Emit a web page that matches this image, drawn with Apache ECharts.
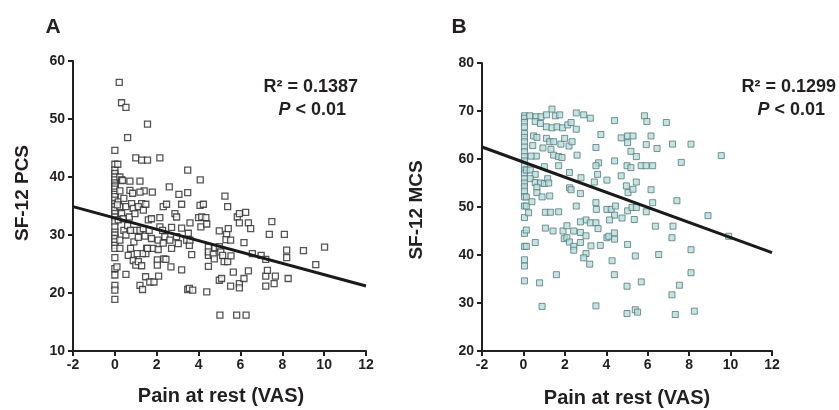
<!DOCTYPE html>
<html><head><meta charset="utf-8">
<script src="https://cdn.jsdelivr.net/npm/echarts@6/dist/echarts.min.js"></script>
<style>html,body{margin:0;padding:0;background:#fff}#c{width:839px;height:410px}</style>
</head><body><div id="c"></div>
<script>
// ---- Data ----
const xTicks = [-2, 0, 2, 4, 6, 8, 10, 12];
const yTicksA = [10, 20, 30, 40, 50, 60];
const yTicksB = [20, 30, 40, 50, 60, 70, 80];

const pointsA = [
 [0,44.6],[0,42.2],[0,41.2],[0,40.6],[0,40.0],[0,39.5],[0,39.0],[0,38.6],[0,38.3],[0,37.9],[0,37.4],[0,37.0],[0,36.6],[0,36.0],[0,35.4],[0,34.9],[0,34.3],[0,33.7],[0,33.1],[0,32.3],[0,31.4],[0,30.5],[0,30.0],[0,29.4],[0,28.8],[0,28.2],[0,27.7],[0,26.1],[0,24.2],[0,23.1],[0,21.3],[0,20.5],[0,18.9],
 [0.21,56.3],[0.32,52.8],[0.53,52.0],[1.56,49.1],[0.61,46.8],[1.0,43.3],[1.28,42.9],[1.56,42.9],[2.15,43.3],[0.14,42.2],[3.48,41.2],[4.08,39.5],
 [0.24,40.0],[0.32,39.5],[0.24,37.6],[0.16,35.7],[0.24,34.9],[0.32,33.7],[0.16,32.6],[0.24,29.1],[0.1,24.5],[0.24,27.7],[0.12,35.2],
 [0.37,39.4],[0.43,36.3],[0.53,34.9],[0.43,30.8],[0.53,30.0],[0.61,31.6],[0.53,23.2],[0.4,32.8],
 [0.72,39.3],[0.72,37.7],[0.85,37.2],[0.8,35.4],[0.88,34.6],[0.69,33.1],[0.96,33.7],[0.75,27.7],[0.64,26.5],[0.88,25.6],[1.0,24.8],[0.96,30.8],[0.91,28.8],[0.75,30.8],
 [1.2,39.3],[1.28,35.4],[1.12,34.9],[1.36,34.3],[1.2,30.8],[1.12,29.6],[1.44,29.8],[1.4,37.6],[1.48,35.3],[1.2,37.4],[1.12,25.4],[1.28,24.7],[1.2,21.3],[1.32,20.6],[1.48,26.8],[1.52,27.7],[1.32,26.8],[1.07,26.8],[1.47,22.8],[1.36,31.1],
 [1.79,37.4],[1.6,32.6],[1.75,32.8],[1.64,30.8],[1.75,29.4],[1.83,27.7],[1.67,21.9],[1.87,21.9],[1.56,27.7],
 [2.15,33.0],[2.15,31.4],[2.31,34.9],[2.47,35.3],[2.28,30.8],[2.39,29.7],[2.07,29.1],[2.07,27.5],[2.03,25.7],[2.03,24.8],[2.09,22.9],[2.34,25.9],[2.44,25.8],[2.31,28.6],
 [2.6,38.3],[2.87,33.7],[2.95,33.1],[2.71,31.3],[2.63,29.1],[2.71,27.7],[2.68,24.5],[2.95,29.7],[3.03,28.5],
 [3.06,37.0],[3.19,35.3],[3.19,31.2],[3.19,24.0],[3.43,29.1],[3.48,37.3],[3.51,30.3],[3.48,20.6],[3.56,20.8],[3.72,20.5],
 [3.59,32.1],[3.56,28.2],[3.67,26.6],[3.59,29.1],[4.0,33.0],[4.07,35.1],
 [4.15,33.1],[4.23,35.3],[4.11,31.4],[4.35,33.0],[4.39,31.9],[4.47,27.9],[4.47,26.5],[4.47,24.6],[4.39,20.2],[4.47,27.1],
 [4.7,26.7],[4.78,27.8],[4.75,25.9],[4.99,30.7],[4.99,28.0],[5.06,27.1],[4.99,22.2],[5.1,22.5],[5.02,16.2],
 [5.15,26.5],[5.26,36.7],[5.39,34.9],[5.34,30.1],[5.31,29.2],[5.42,31.1],[5.22,25.4],[5.39,25.4],[5.53,29.1],[5.55,26.4],
 [5.66,23.6],[5.53,21.2],[5.85,33.1],[5.95,33.7],[5.95,32.1],[5.95,21.6],[5.95,20.9],[5.82,16.2],
 [6.25,33.9],[6.38,32.1],[6.49,31.1],[6.17,28.7],[6.17,22.5],[6.38,23.8],[6.27,16.2],
 [6.57,26.8],[6.99,26.5],
 [7.21,25.8],[7.21,22.9],[7.21,21.2],[7.29,23.9],[7.38,30.1],
 [7.5,32.3],[7.67,22.9],[7.61,21.6],
 [8.1,30.1],[8.21,27.4],[8.21,26.1],[8.28,22.5],
 [9.01,27.3],[9.6,24.9],[10.02,27.9]
];

const pointsB = [
 [0.05,69.0],[0.05,68.5],[0.05,67.6],[0.05,66.7],[0.05,65.3],[0.05,64.5],[0.05,63.6],[0.05,62.5],[0.05,61.5],[0.05,60.5],[0.05,59.6],[0.05,58.6],[0.05,57.7],[0.05,57.0],[0.05,55.9],[0.05,55.0],[0.05,54.2],[0.05,53.3],[0.05,52.1],[0.05,50.2],[0.05,47.8],[0.05,44.5],[0.05,41.8],[0.05,39.0],[0.05,37.7],[0.05,34.6],
 [0.14,45.2],[0.14,41.8],[0.14,50.2],[0.14,52.1],[0.14,57.7],
 [0.3,69.0],[0.61,68.8],[0.85,68.8],[1.11,69.2],[1.38,70.4],[1.54,69.0],[1.75,69.2],
 [0.57,67.8],[0.82,67.4],[1.11,66.7],[1.38,66.5],[1.62,66.7],[1.89,66.5],[2.14,67.1],[2.3,67.6],
 [0.49,64.8],[0.65,64.5],[1.11,64.3],[1.27,63.6],[1.46,63.6],[1.81,63.1],[1.99,64.3],[2.2,62.7],[2.35,63.6],
 [0.45,62.8],[0.94,62.3],[1.33,62.0],[1.46,60.8],[1.7,60.5],[1.86,60.3],[0.62,60.6],[0.37,60.6],
 [1.01,58.4],[1.7,58.6],[0.33,57.7],[0.57,56.8],[0.33,55.9],[0.57,55.1],[0.82,55.0],[1.01,54.9],[1.17,55.9],[1.22,55.0],
 [0.65,54.1],[0.65,53.0],[0.9,52.1],[1.27,52.3],[0.41,51.1],[0.25,48.8],[1.06,48.9],[1.3,48.9],[1.7,49.0],
 [1.06,45.6],[1.43,45.0],[1.91,45.0],[2.1,46.1],[1.97,43.4],[2.1,43.6],[2.22,42.7],[2.43,45.0],[2.43,41.8],[2.43,41.0],
 [0.57,42.6],[0.78,34.2],[0.9,29.3],[1.59,35.9],
 [2.55,69.6],[2.91,69.2],[3.23,68.5],[4.4,68.0],[5.84,69.0],[5.96,67.8],[6.9,67.6],[2.55,66.2],
 [3.74,65.1],[4.72,64.4],[5.03,64.8],[5.29,64.8],[6.16,64.8],[5.03,63.4],[5.93,63.0],[6.45,62.2],[7.2,63.1],[8.09,63.1],
 [3.5,62.4],[2.59,60.8],[5.19,61.6],[5.45,60.5],[9.55,60.7],[4.4,59.6],[3.63,59.2],[3.5,58.6],[5.0,58.6],[5.19,58.2],[5.68,58.6],[5.92,58.6],[6.24,58.6],[7.62,59.3],
 [2.22,57.2],[2.78,56.1],[3.58,56.8],[4.72,56.5],[3.42,55.2],[4.03,55.6],[5.45,55.2],[4.97,54.4],[5.05,53.0],[5.29,53.7],[6.16,53.6],[2.23,54.0],[2.3,53.6],[2.75,52.8],
 [6.24,50.9],[7.41,51.3],[3.5,50.9],[2.55,50.2],[3.52,49.5],[4.03,49.5],[4.24,49.5],[4.44,50.2],[5.03,49.2],[5.24,49.9],[5.45,49.9],[5.93,49.0],
 [4.76,47.7],[5.35,47.4],[4.4,48.3],[4.16,47.3],[3.02,47.3],[3.23,46.7],[2.75,46.9],[3.5,46.7],[3.6,45.5],[6.37,46.0],[7.22,46.0],[8.91,48.2],[9.91,43.9],
 [2.75,44.7],[3.02,44.0],[2.75,42.6],[3.26,41.9],[3.71,42.0],[4.03,43.6],[4.12,43.9],[4.39,44.6],[4.4,43.3],[5.03,42.2],[7.17,43.6],[8.09,41.1],
 [3.02,40.3],[2.91,39.4],[3.2,38.1],[4.28,38.8],[5.4,39.8],[6.53,40.1],[4.39,35.9],[8.09,36.3],[5.69,34.4],[5.0,33.5],[7.53,33.7],[7.17,31.7],
 [3.5,29.4],[5.4,28.6],[5.51,28.1],[5.0,27.8],[7.33,27.6],[8.25,28.3]
];

const fitA = [[-2, 34.9], [12, 21.2]];
const fitB = [[-2, 62.5], [12, 40.5]];

const panelLabels = ['A', 'B'];
const yTitles = ['SF-12 PCS', 'SF-12 MCS'];
const xTitle = 'Pain at rest (VAS)';
const r2Texts = ['R² = 0.1387', 'R² = 0.1299'];

// ---- Chart ----
const FONT = '"Liberation Sans", Arial, Helvetica, sans-serif';
const INK = '#231f20';
const chart = echarts.init(document.getElementById('c'), null, {renderer: 'canvas'});

function xAxisCfg(idx) {
  return {
    gridIndex: idx, type: 'value', min: xTicks[0], max: xTicks[xTicks.length - 1], interval: 2,
    axisLine: {onZero: false, lineStyle: {color: INK, width: 2}},
    axisTick: {length: 5, lineStyle: {color: INK, width: 2}},
    axisLabel: {color: INK, fontFamily: FONT, fontWeight: 'bold', fontSize: 14, margin: 7},
    splitLine: {show: false}
  };
}
function yAxisCfg(idx, ticks) {
  return {
    gridIndex: idx, type: 'value', min: ticks[0], max: ticks[ticks.length - 1], interval: 10,
    axisLine: {onZero: false, lineStyle: {color: INK, width: 2}},
    axisTick: {length: 5, lineStyle: {color: INK, width: 2}},
    axisLabel: {color: INK, fontFamily: FONT, fontWeight: 'bold', fontSize: 14, margin: 8},
    splitLine: {show: false}
  };
}
function txt(x, y, text, opts) {
  return Object.assign({
    type: 'text', x: x, y: y,
    style: Object.assign({text: text, fill: INK, font: 'bold 18px ' + FONT, textAlign: 'center', textVerticalAlign: 'middle'}, opts && opts.style || {})
  }, opts && opts.el || {});
}

const option = {
  animation: false,
  backgroundColor: '#fff',
  grid: [
    {left: 73, top: 61, width: 293, height: 290},
    {left: 482, top: 63, width: 290, height: 288}
  ],
  xAxis: [xAxisCfg(0), xAxisCfg(1)],
  yAxis: [yAxisCfg(0, yTicksA), yAxisCfg(1, yTicksB)],
  series: [
    {type: 'scatter', xAxisIndex: 0, yAxisIndex: 0, data: pointsA, symbol: 'rect', symbolSize: 6,
     itemStyle: {color: '#ffffff', borderColor: '#2a2a2a', borderWidth: 1.3}, z: 2},
    {type: 'line', xAxisIndex: 0, yAxisIndex: 0, data: fitA, symbol: 'none',
     lineStyle: {color: '#1a1a1a', width: 3}, z: 5},
    {type: 'scatter', xAxisIndex: 1, yAxisIndex: 1, data: pointsB, symbol: 'rect', symbolSize: 6,
     itemStyle: {color: '#b7dfdf', borderColor: '#587878', borderWidth: 1}, z: 2},
    {type: 'line', xAxisIndex: 1, yAxisIndex: 1, data: fitB, symbol: 'none',
     lineStyle: {color: '#1a1a1a', width: 3}, z: 5}
  ],
  graphic: [
    txt(53, 27, panelLabels[0], {style: {font: 'bold 21px ' + FONT}}),
    txt(459, 27, panelLabels[1], {style: {font: 'bold 21px ' + FONT}}),
    txt(23, 193, yTitles[0], {style: {font: 'bold 19px ' + FONT}, el: {rotation: Math.PI / 2}}),
    txt(417, 210, yTitles[1], {style: {font: 'bold 19px ' + FONT}, el: {rotation: Math.PI / 2}}),
    txt(221, 396, xTitle, {style: {font: 'bold 20px ' + FONT}}),
    txt(627, 398, xTitle, {style: {font: 'bold 20px ' + FONT}}),
    txt(358, 87, r2Texts[0], {style: {textAlign: 'right'}}),
    {type: 'text', x: 346, y: 110, style: {rich: {i: {font: 'italic bold 18px ' + FONT, fill: INK}, n: {font: 'bold 18px ' + FONT, fill: INK}}, text: '{i|P}{n| < 0.01}', textAlign: 'right', textVerticalAlign: 'middle'}},
    txt(836, 87, r2Texts[1], {style: {textAlign: 'right'}}),
    {type: 'text', x: 825, y: 110, style: {rich: {i: {font: 'italic bold 18px ' + FONT, fill: INK}, n: {font: 'bold 18px ' + FONT, fill: INK}}, text: '{i|P}{n| < 0.01}', textAlign: 'right', textVerticalAlign: 'middle'}}
  ]
};
chart.setOption(option);
</script>
</body></html>
